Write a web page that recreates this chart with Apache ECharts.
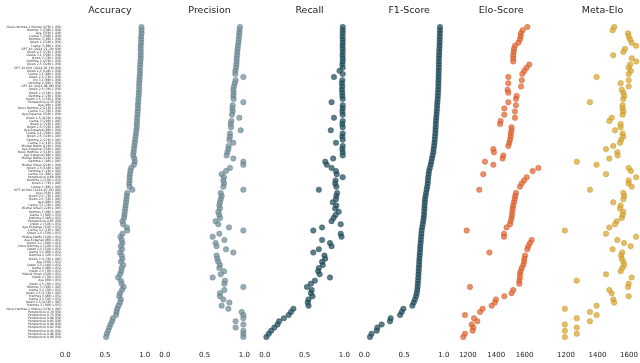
<!DOCTYPE html>
<html><head><meta charset="utf-8">
<script src="https://cdn.jsdelivr.net/npm/echarts@6/dist/echarts.min.js"></script>
<style>html,body{margin:0;padding:0;background:#fff}#c{width:640px;height:363px}</style>
</head><body><div id="c"></div>
<script>
const models = [
"Nous Hermes 2 Mistral (47B) L (EN)","Hermes 3 (70B) L (EN)","Aya (35B) L (EN)","Llama 3 (70B) L (EN)","Hermes 3 (8B) L (EN)",
"Qwen 2 (72B) L (EN)","Llama 3 (8B) L (EN)","GPT 4o (2024-11-20) (EN)","Qwen 2.5 (72B) L (EN)","Llama 3.1 (70B) L (EN)",
"Qwen 2 (7B) L (EN)","Gemma 2 (27B) L (EN)","Qwen 2.5 (32B) L (EN)","GPT 4o Mini (2024-07-18) (EN)","Qwen 2.5 (14B) L (EN)",
"Llama 3.1 (8B) L (EN)","Qwen 2.5 (7B) L (EN)","Elo 3.1 (8B) L (EN)","Gemma 2 (9B) L (EN)","GPT 4o (2024-08-06) (EN)",
"Qwen 2.5 (3B) L (EN)","Qwen 2 (1.5B) L (EN)","Gemma 2 (2B) L (EN)","Qwen 2.5 (1.5B) L (EN)","Perspective 0.55 (EN)",
"Aya (8B) L (EN)","Nous Hermes 2 (11B) L (EN)","Llama 3.2 (3B) L (EN)","Aya Expanse (32B) L (EN)","Qwen 2.5 (0.5B) L (EN)",
"Llama 3 (70B) L (DE)","Qwen 2 (72B) L (DE)","Qwen 2.5 (72B) L (DE)","Aya Expanse (8B) L (EN)","Llama 3.1 (70B) L (DE)",
"Qwen 2.5 (32B) L (DE)","Gemma 2 (27B) L (DE)","Llama 3.2 (1B) L (EN)","Mistral NeMo (12B) L (EN)","Aya Expanse (32B) L (DE)",
"Nous Hermes 2 (11B) L (DE)","Aya Expanse (8B) L (DE)","Mistral NeMo (12B) L (DE)","Gemma 2 (9B) L (DE)","Mistral Small (22B) L (EN)",
"Qwen 2.5 (14B) L (DE)","Gemma 2 (2B) L (DE)","Llama 3.1 (8B) L (DE)","Perspective 0.60 (EN)","Gemma 2 (27B) L (ES)",
"Qwen 2 (7B) L (DE)","Llama 3 (8B) L (DE)","GPT 4o Mini (2024-07-18) (DE)","Aya (35B) L (DE)","Qwen 2.5 (7B) L (DE)",
"Qwen 2.5 (3B) L (DE)","Aya (8B) L (DE)","Llama 3.2 (3B) L (DE)","Mistral Small (22B) L (DE)","Hermes 3 (8B) L (DE)",
"Llama 3 (70B) L (ES)","Gemma 2 (9B) L (ES)","Perspective 0.65 (EN)","Qwen 2 (72B) L (ES)","Aya Expanse (32B) L (ES)",
"Llama 3.2 (1B) L (DE)","Qwen 2.5 (72B) L (ES)","Mistral NeMo (12B) L (ES)","Aya Expanse (8B) L (ES)","Llama 3.1 (70B) L (ES)",
"Nous Hermes 2 (11B) L (ES)","Qwen 2.5 (32B) L (ES)","Llama 3.1 (8B) L (ES)","Gemma 2 (2B) L (ES)","Qwen 2 (1.5B) L (DE)",
"Aya (35B) L (ES)","Qwen 2.5 (14B) L (ES)","Llama 3 (8B) L (ES)","Qwen 2.5 (7B) L (ES)","Mistral Small (22B) L (ES)",
"Qwen 2 (7B) L (ES)","Aya (8B) L (ES)","Qwen 2.5 (3B) L (ES)","Hermes 3 (70B) L (DE)","Llama 3.2 (3B) L (ES)",
"Qwen 2.5 (1.5B) L (DE)","Hermes 3 (8B) L (ES)","Llama 3.2 (1B) L (ES)","Qwen 2.5 (0.5B) L (DE)","Hermes 3 (70B) L (ES)",
"Nous Hermes 2 Mistral (47B) L (DE)","Perspective 0.70 (EN)","Perspective 0.75 (EN)","Perspective 0.80 (EN)","Perspective 0.85 (EN)",
"Perspective 0.90 (EN)","Perspective 0.92 (EN)","Perspective 0.94 (EN)","Perspective 0.96 (EN)","Perspective 0.98 (EN)"
];

const accuracy = [
0.96,0.96,0.96,0.955,0.955,0.955,0.95,0.95,0.95,0.95,
0.95,0.945,0.945,0.94,0.94,0.94,0.935,0.935,0.93,0.93,
0.93,0.925,0.925,0.92,0.92,0.915,0.915,0.91,0.91,0.905,
0.905,0.9,0.9,0.895,0.89,0.885,0.88,0.875,0.87,0.865,
0.86,0.855,0.87,0.875,0.865,0.83,0.82,0.815,0.81,0.81,
0.805,0.81,0.845,0.78,0.775,0.77,0.765,0.76,0.755,0.75,
0.745,0.74,0.72,0.73,0.775,0.78,0.72,0.695,0.71,0.72,
0.70,0.715,0.69,0.71,0.72,0.70,0.73,0.71,0.705,0.69,
0.665,0.70,0.71,0.735,0.715,0.69,0.68,0.70,0.69,0.67,
0.655,0.645,0.64,0.60,0.59,0.57,0.555,0.54,0.525,0.515
];

const precision = [
0.946,0.94,0.937,0.933,0.93,0.925,0.92,0.916,0.912,0.91,
0.904,0.904,0.90,0.896,0.887,0.887,0.988,0.89,0.88,0.87,
0.862,0.866,0.862,0.866,0.988,0.854,0.85,0.854,0.845,0.937,
0.837,0.829,0.833,0.954,0.82,0.82,0.812,0.862,0.803,0.80,
0.787,0.778,0.862,0.988,0.988,0.82,0.77,0.715,0.745,0.736,
0.745,0.736,0.988,0.703,0.715,0.703,0.694,0.686,0.694,0.673,
0.686,0.694,0.639,0.673,0.807,0.988,0.686,0.602,0.749,0.639,
0.652,0.77,0.862,0.652,0.66,0.673,0.694,0.686,0.745,0.703,
0.602,0.757,0.749,0.988,0.749,0.694,0.694,0.736,0.812,0.715,
0.799,0.967,0.988,0.988,0.891,0.988,0.891,0.988,0.988,0.988
];

const recall = [
0.98,0.98,0.98,0.978,0.98,0.98,0.978,0.98,0.98,0.978,
0.98,0.98,0.975,0.98,0.94,0.98,0.87,0.975,0.97,0.975,
0.97,0.975,0.975,0.98,0.84,0.98,0.98,0.975,0.98,0.87,
0.98,0.975,0.98,0.83,0.98,0.975,0.98,0.895,0.98,0.975,
0.98,0.98,0.86,0.76,0.78,0.84,0.895,0.905,0.98,0.89,
0.885,0.90,0.68,0.91,0.90,0.895,0.855,0.90,0.885,0.93,
0.89,0.865,0.84,0.955,0.72,0.61,0.955,0.965,0.72,0.82,
0.84,0.68,0.61,0.75,0.76,0.72,0.73,0.68,0.67,0.69,
0.82,0.63,0.58,0.53,0.59,0.58,0.60,0.55,0.54,0.55,
0.36,0.33,0.30,0.24,0.18,0.16,0.12,0.08,0.05,0.02
];

const f1 = [
0.951,0.95,0.949,0.948,0.947,0.946,0.945,0.943,0.941,0.94,
0.938,0.937,0.937,0.936,0.935,0.934,0.933,0.932,0.931,0.93,
0.928,0.926,0.924,0.921,0.918,0.915,0.913,0.91,0.907,0.904,
0.90,0.898,0.896,0.894,0.892,0.888,0.885,0.881,0.876,0.871,
0.867,0.858,0.85,0.842,0.834,0.823,0.813,0.808,0.803,0.799,
0.796,0.79,0.783,0.776,0.769,0.762,0.76,0.757,0.755,0.752,
0.75,0.745,0.74,0.734,0.727,0.72,0.717,0.714,0.71,0.707,
0.703,0.701,0.698,0.695,0.692,0.69,0.688,0.685,0.683,0.68,
0.678,0.675,0.672,0.669,0.666,0.658,0.65,0.636,0.62,0.603,
0.49,0.47,0.448,0.33,0.322,0.217,0.163,0.155,0.09,0.07
];

const elo = [
1619,1586,1574,1572,1567,1556,1532,1525,1523,1520,
1520,1520,1633,1614,1598,1584,1485,1580,1485,1575,
1480,1485,1544,1539,1485,1539,1457,1532,1457,1532,
1431,1427,1508,1508,1502,1502,1497,1492,1485,1380,
1384,1450,1445,1321,1380,1697,1657,1309,1615,1596,
1580,1567,1281,1539,1534,1530,1525,1520,1516,1513,
1511,1508,1502,1497,1473,1192,1455,1455,1650,1638,
1626,1619,1352,1603,1598,1596,1591,1580,1572,1567,
1567,1563,1563,1215,1520,1508,1457,1398,1391,1368,
1305,1286,1180,1244,1267,1227,1239,1234,1180,1168
];

const metaElo = [
1506,1496,1594,1598,1607,1617,1645,1574,1564,1500,
1617,1645,1607,1598,1612,1598,1394,1598,1547,1598,
1554,1564,1570,1564,1352,1559,1559,1564,1559,1490,
1475,1547,1547,1511,1559,1564,1550,1543,1500,1454,
1526,1528,1475,1268,1394,1598,1612,1454,1645,1598,
1598,1617,1352,1564,1570,1564,1500,1547,1543,1564,
1559,1554,1522,1511,1475,1193,1454,1645,1526,1568,
1610,1496,1557,1550,1554,1564,1570,1557,1547,1454,
1617,1268,1598,1594,1475,1490,1598,1500,1506,1394,
1193,1352,1394,1268,1352,1193,1268,1193,1268,1193
];

const panelTitles = ["Accuracy","Precision","Recall","F1-Score","Elo-Score","Meta-Elo"];
const scoreTickLabels = [0, 0.5, 1.0];
const eloTickLabels = [1200, 1400, 1600];

const panelValues = [accuracy, precision, recall, f1, elo, metaElo];
const colors = ["#6f8d99","#6f8d99","#1f4c5c","#1f4c5c","#e2642e","#d8a52c"];
const borders = ["#56727e","#56727e","#163a47","#163a47","#c24e1d","#b98a1d"];

const N = models.length;
const rowTop = 27, rowBottom = 337;
const pitch = (rowBottom - rowTop) / (N - 1);
const gridTop = rowTop - pitch / 2;
const gridH = pitch * N;
const panels = [
  {left: 65.2, width: 79.5, ticks: scoreTickLabels},
  {left: 164.8, width: 79.5, ticks: scoreTickLabels},
  {left: 264.8, width: 79.5, ticks: scoreTickLabels},
  {left: 364.4, width: 79.5, ticks: scoreTickLabels},
  {left: 467.8, width: 56.8, ticks: eloTickLabels},
  {left: 566.0, width: 63.0, ticks: eloTickLabels}
];

const grids = [], xAxes = [], yAxes = [], series = [], titles = [];
panels.forEach((p, k) => {
  grids.push({left: p.left, top: gridTop, width: p.width, height: gridH, containLabel: false, outerBoundsMode: 'none'});
  const tmin = p.ticks[0], tmax = p.ticks[p.ticks.length - 1];
  xAxes.push({
    type: 'value', gridIndex: k, min: tmin, max: tmax, interval: p.ticks[1] - p.ticks[0],
    axisLine: {show: false, onZero: false}, axisTick: {show: false}, splitLine: {show: false},
    axisLabel: {show: false}
  });
  yAxes.push(k === 0 ? {
    type: 'category', gridIndex: k, data: models, inverse: true,
    offset: p.left - 62.5,
    axisLine: {show: false, onZero: false}, axisTick: {show: false}, splitLine: {show: false},
    axisLabel: {show: true, interval: 0, fontSize: 3.1, color: '#333', fontFamily: 'DejaVu Sans', margin: 1, align: 'right'}
  } : {
    type: 'category', gridIndex: k, data: models, inverse: true, show: false
  });
  series.push({
    type: 'scatter', xAxisIndex: k, yAxisIndex: k, clip: false,
    symbol: 'circle', symbolSize: 5.5,
    itemStyle: {color: colors[k], opacity: 0.72, borderColor: borders[k], borderWidth: 0.5},
    data: panelValues[k].map((v, i) => [v, i])
  });
  titles.push({cx: p.left + p.width / 2, text: panelTitles[k]});
});

const chart = echarts.init(document.getElementById('c'), null, {renderer: 'canvas', width: 640, height: 363});
chart.setOption({
  animation: false,
  backgroundColor: '#ffffff',
  title: titles.map(t => ({
    text: t.text, left: t.cx, top: 1, textAlign: 'center',
    textStyle: {fontSize: 9.5, fontWeight: 'normal', color: '#222', fontFamily: 'DejaVu Sans'}
  })),
  grid: grids, xAxis: xAxes, yAxis: yAxes, series: series
});

// tick labels placed through each panel's own x scale (grid finder, array value)
const labelY = gridTop + gridH + 13;
const tickTexts = [];
panels.forEach((p, k) => {
  const tmin = p.ticks[0], tmax = p.ticks[p.ticks.length - 1];
  p.ticks.forEach((t, j) => {
    let px = NaN;
    try { px = chart.convertToPixel({gridIndex: k}, [t, 0])[0]; } catch (e) {}
    if (!isFinite(px)) px = p.left + (t - tmin) / (tmax - tmin) * p.width;
    tickTexts.push({
      type: 'text', id: 'tick_' + k + '_' + j, x: px, y: labelY, silent: true, z: 1000,
      style: {
        text: k < 4 ? t.toFixed(1) : String(t),
        fontSize: 7, fontFamily: 'DejaVu Sans', fill: '#222',
        align: 'center', verticalAlign: 'top', textAlign: 'center', textVerticalAlign: 'top'
      }
    });
  });
});
chart.setOption({graphic: {elements: tickTexts}});
</script></body></html>
